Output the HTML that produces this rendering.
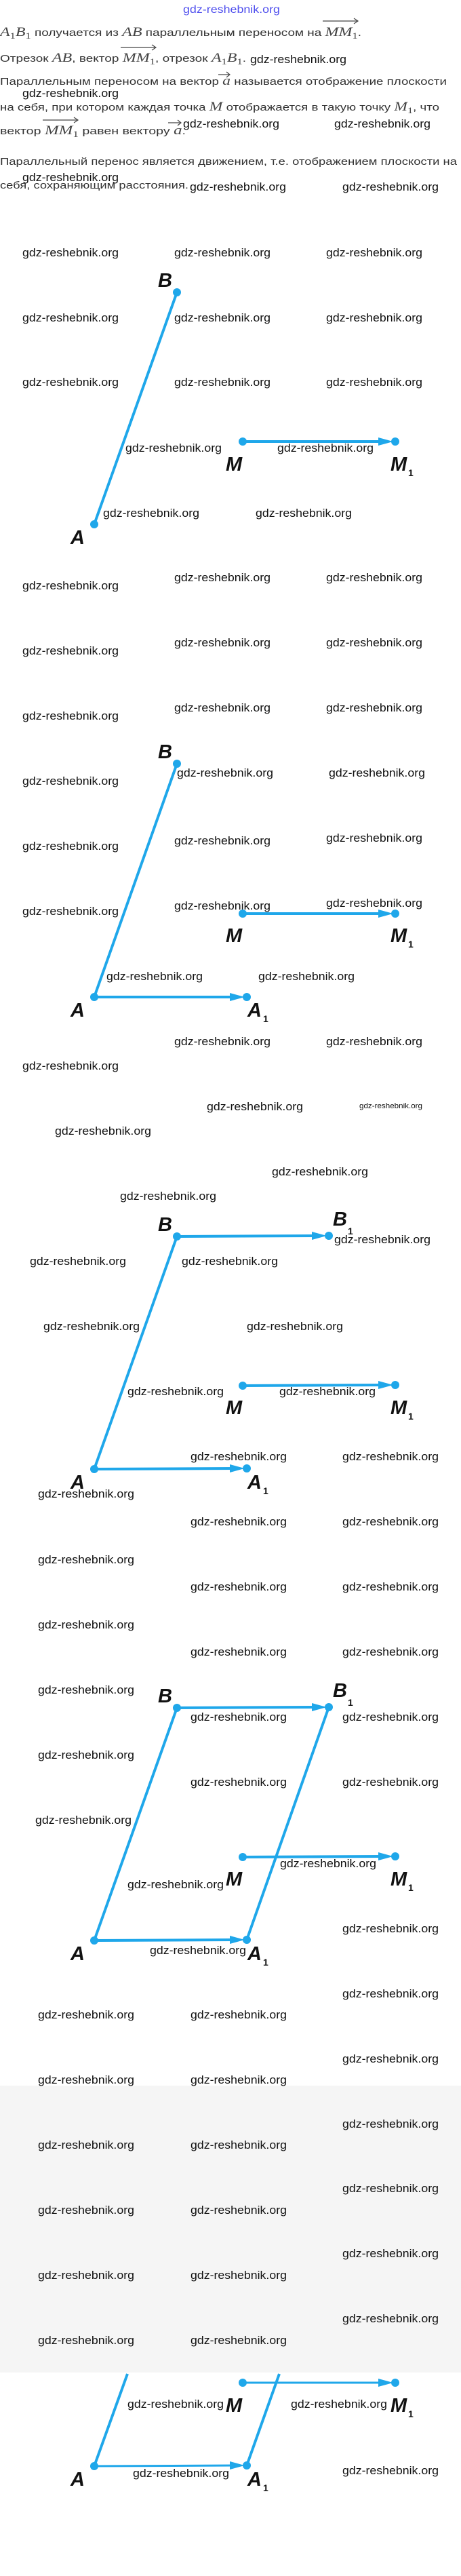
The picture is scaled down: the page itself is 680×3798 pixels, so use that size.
<!DOCTYPE html>
<html><head><meta charset="utf-8"><style>
html,body{margin:0;padding:0;background:#fff;}
body{width:680px;height:3798px;overflow:hidden;position:relative;}
svg{position:absolute;left:0;top:0;}
.w{font-family:"Liberation Sans",sans-serif;font-size:17px;fill:#111;}
.t{font-family:"Liberation Sans",sans-serif;font-size:15px;fill:#333;}
.m{font-family:"Liberation Serif",serif;font-style:italic;font-size:19px;fill:#444;}
.s{font-family:"Liberation Serif",serif;font-size:13px;fill:#444;}
.L{font-family:"Liberation Sans",sans-serif;font-weight:bold;font-style:italic;font-size:29px;fill:#111;}
.l1{font-family:"Liberation Sans",sans-serif;font-weight:bold;font-size:14px;fill:#111;}
.ln{stroke:#1fa7ea;stroke-width:4;stroke-linecap:round;fill:none;}
.dt{fill:#1fa7ea;}
.va{stroke:#444;stroke-width:1.2;fill:none;}
</style></head><body>
<svg width="680" height="3798" viewBox="0 0 680 3798" xmlns="http://www.w3.org/2000/svg">
<!-- header -->
<text x="270" y="19" font-family="Liberation Sans Narrow, Liberation Sans, sans-serif" font-size="16" fill="#5050ee" textLength="143" lengthAdjust="spacingAndGlyphs">gdz-reshebnik.org</text>

<text class="t" x="0" y="53" textLength="533" lengthAdjust="spacingAndGlyphs"><tspan class="m">A</tspan><tspan class="s" dy="4">1</tspan><tspan class="m" dy="-4">B</tspan><tspan class="s" dy="4">1</tspan><tspan dy="-4"> получается из </tspan><tspan class="m">AB</tspan> параллельным переносом на <tspan class="m">MM</tspan><tspan class="s" dy="4">1</tspan><tspan dy="-4">.</tspan></text>
<path class="va" d="M476 31 L528 31 M522 27 L528 31 L522 35"/>

<text class="t" x="0" y="91" textLength="363" lengthAdjust="spacingAndGlyphs">Отрезок <tspan class="m">AB</tspan>, вектор <tspan class="m">MM</tspan><tspan class="s" dy="4">1</tspan><tspan dy="-4">, отрезок </tspan><tspan class="m">A</tspan><tspan class="s" dy="4">1</tspan><tspan class="m" dy="-4">B</tspan><tspan class="s" dy="4">1</tspan><tspan dy="-4">.</tspan></text>
<path class="va" d="M178 70 L230 70 M224 66 L230 70 L224 74"/>
<text class="w" x="369" y="93" textLength="142" lengthAdjust="spacingAndGlyphs">gdz-reshebnik.org</text>

<text class="t" x="0" y="125" textLength="659" lengthAdjust="spacingAndGlyphs">Параллельным переносом на вектор <tspan class="m">a</tspan>  называется отображение плоскости</text>
<path class="va" d="M322 110 L339 110 M334 106 L339 110 L334 114"/>
<text class="w" x="33" y="143" textLength="142" lengthAdjust="spacingAndGlyphs">gdz-reshebnik.org</text>
<text class="t" x="0" y="163" textLength="648" lengthAdjust="spacingAndGlyphs">на себя, при котором каждая точка <tspan class="m">M</tspan> отображается в такую точку <tspan class="m">M</tspan><tspan class="s" dy="4">1</tspan><tspan dy="-4">, что</tspan></text>
<text class="t" x="0" y="198" textLength="274" lengthAdjust="spacingAndGlyphs">вектор <tspan class="m">MM</tspan><tspan class="s" dy="4">1</tspan><tspan dy="-4"> равен вектору </tspan><tspan class="m">a</tspan>.</text>
<path class="va" d="M63 177 L115 177 M109 173 L115 177 L109 181"/>
<path class="va" d="M248 181 L267 181 M262 177 L267 181 L262 185"/>
<text class="w" x="270" y="188" textLength="142" lengthAdjust="spacingAndGlyphs">gdz-reshebnik.org</text>
<text class="w" x="493" y="188" textLength="142" lengthAdjust="spacingAndGlyphs">gdz-reshebnik.org</text>
<text class="t" x="0" y="243" textLength="674" lengthAdjust="spacingAndGlyphs">Параллельный перенос является движением, т.е. отображением плоскости на</text>
<text class="w" x="33" y="267" textLength="142" lengthAdjust="spacingAndGlyphs">gdz-reshebnik.org</text>
<text class="t" x="0" y="278" textLength="278" lengthAdjust="spacingAndGlyphs">себя, сохраняющим расстояния.</text>
<text class="w" x="280" y="281" textLength="142" lengthAdjust="spacingAndGlyphs">gdz-reshebnik.org</text>
<text class="w" x="505" y="281" textLength="142" lengthAdjust="spacingAndGlyphs">gdz-reshebnik.org</text>

<!-- gray band -->
<rect x="0" y="3075" width="680" height="423" fill="#f5f5f5"/>

<!-- Diagram 1 -->
<g>
<line class="ln" x1="261" y1="431" x2="139" y2="773"/>
<line class="ln" x1="358" y1="651" x2="566" y2="651"/><polygon class="dt" points="558,645 580,651 558,657"/>
<circle class="dt" cx="261" cy="431" r="6"/><circle class="dt" cx="139" cy="773" r="6"/>
<circle class="dt" cx="358" cy="651" r="6"/><circle class="dt" cx="583" cy="651" r="6"/>
<text class="L" x="233" y="423">B</text>
<text class="L" x="333" y="694">M</text>
<text class="L" x="576" y="694">M</text><text class="l1" x="602" y="702">1</text>
<text class="L" x="104" y="802">A</text>
</g>

<!-- Diagram 2 -->
<g>
<line class="ln" x1="261" y1="1126" x2="139" y2="1470"/>
<line class="ln" x1="358" y1="1347" x2="566" y2="1347"/><polygon class="dt" points="558,1341 580,1347 558,1353"/>
<line class="ln" x1="139" y1="1470" x2="347" y2="1470"/><polygon class="dt" points="339,1464 361,1470 339,1476"/>
<circle class="dt" cx="261" cy="1126" r="6"/><circle class="dt" cx="139" cy="1470" r="6"/>
<circle class="dt" cx="358" cy="1347" r="6"/><circle class="dt" cx="583" cy="1347" r="6"/>
<circle class="dt" cx="364" cy="1470" r="6"/>
<text class="L" x="233" y="1118">B</text>
<text class="L" x="333" y="1389">M</text>
<text class="L" x="576" y="1389">M</text><text class="l1" x="602" y="1397">1</text>
<text class="L" x="104" y="1499">A</text>
<text class="L" x="365" y="1499">A</text><text class="l1" x="388" y="1507">1</text>
</g>

<!-- Diagram 3 -->
<g>
<line class="ln" x1="261" y1="1823" x2="139" y2="2166"/>
<line class="ln" x1="261" y1="1823" x2="468" y2="1822"/><polygon class="dt" points="460,1816 482,1822 460,1828"/>
<line class="ln" x1="358" y1="2043" x2="566" y2="2042"/><polygon class="dt" points="558,2036 580,2042 558,2048"/>
<line class="ln" x1="139" y1="2166" x2="347" y2="2165"/><polygon class="dt" points="339,2159 361,2165 339,2171"/>
<circle class="dt" cx="261" cy="1823" r="6"/><circle class="dt" cx="485" cy="1822" r="6"/>
<circle class="dt" cx="358" cy="2043" r="6"/><circle class="dt" cx="583" cy="2042" r="6"/>
<circle class="dt" cx="139" cy="2166" r="6"/><circle class="dt" cx="364" cy="2165" r="6"/>
<text class="L" x="233" y="1815">B</text>
<text class="L" x="491" y="1807">B</text><text class="l1" x="513" y="1820">1</text>
<text class="L" x="333" y="2085">M</text>
<text class="L" x="576" y="2085">M</text><text class="l1" x="602" y="2093">1</text>
<text class="L" x="104" y="2195">A</text>
<text class="L" x="365" y="2195">A</text><text class="l1" x="388" y="2203">1</text>
</g>

<!-- Diagram 4 -->
<g>
<line class="ln" x1="261" y1="2518" x2="139" y2="2861"/>
<line class="ln" x1="485" y1="2517" x2="364" y2="2860"/>
<line class="ln" x1="261" y1="2518" x2="468" y2="2517"/><polygon class="dt" points="460,2511 482,2517 460,2523"/>
<line class="ln" x1="358" y1="2738" x2="566" y2="2737"/><polygon class="dt" points="558,2731 580,2737 558,2743"/>
<line class="ln" x1="139" y1="2861" x2="347" y2="2860"/><polygon class="dt" points="339,2854 361,2860 339,2866"/>
<circle class="dt" cx="261" cy="2518" r="6"/><circle class="dt" cx="485" cy="2517" r="6"/>
<circle class="dt" cx="358" cy="2738" r="6"/><circle class="dt" cx="583" cy="2737" r="6"/>
<circle class="dt" cx="139" cy="2861" r="6"/><circle class="dt" cx="364" cy="2860" r="6"/>
<text class="L" x="233" y="2510">B</text>
<text class="L" x="491" y="2502">B</text><text class="l1" x="513" y="2515">1</text>
<text class="L" x="333" y="2780">M</text>
<text class="L" x="576" y="2780">M</text><text class="l1" x="602" y="2788">1</text>
<text class="L" x="104" y="2890">A</text>
<text class="L" x="365" y="2890">A</text><text class="l1" x="388" y="2898">1</text>
</g>

<!-- Diagram 5 (partial) -->
<g>
<line class="ln" x1="188" y1="3500" x2="139" y2="3636" style="stroke-linecap:butt"/>
<line class="ln" x1="412" y1="3500" x2="364" y2="3635" style="stroke-linecap:butt"/>
<line class="ln" x1="358" y1="3513" x2="566" y2="3513" style="stroke-width:3"/><polygon class="dt" points="558,3507 580,3513 558,3519"/>
<line class="ln" x1="139" y1="3636" x2="347" y2="3635" style="stroke-width:3"/><polygon class="dt" points="339,3629 361,3635 339,3641"/>
<circle class="dt" cx="358" cy="3513" r="6"/><circle class="dt" cx="583" cy="3513" r="6"/>
<circle class="dt" cx="139" cy="3636" r="6"/><circle class="dt" cx="364" cy="3635" r="6"/>
<text class="L" x="333" y="3556">M</text>
<text class="L" x="576" y="3556">M</text><text class="l1" x="602" y="3564">1</text>
<text class="L" x="104" y="3665">A</text>
<text class="L" x="365" y="3665">A</text><text class="l1" x="388" y="3673">1</text>
</g>

<!-- watermarks -->
<g class="w">
<text x="33" y="378" textLength="142" lengthAdjust="spacingAndGlyphs">gdz-reshebnik.org</text>
<text x="257" y="378" textLength="142" lengthAdjust="spacingAndGlyphs">gdz-reshebnik.org</text>
<text x="481" y="378" textLength="142" lengthAdjust="spacingAndGlyphs">gdz-reshebnik.org</text>
<text x="33" y="474" textLength="142" lengthAdjust="spacingAndGlyphs">gdz-reshebnik.org</text>
<text x="257" y="474" textLength="142" lengthAdjust="spacingAndGlyphs">gdz-reshebnik.org</text>
<text x="481" y="474" textLength="142" lengthAdjust="spacingAndGlyphs">gdz-reshebnik.org</text>
<text x="33" y="569" textLength="142" lengthAdjust="spacingAndGlyphs">gdz-reshebnik.org</text>
<text x="257" y="569" textLength="142" lengthAdjust="spacingAndGlyphs">gdz-reshebnik.org</text>
<text x="481" y="569" textLength="142" lengthAdjust="spacingAndGlyphs">gdz-reshebnik.org</text>
<text x="185" y="666" textLength="142" lengthAdjust="spacingAndGlyphs">gdz-reshebnik.org</text>
<text x="409" y="666" textLength="142" lengthAdjust="spacingAndGlyphs">gdz-reshebnik.org</text>
<text x="152" y="762" textLength="142" lengthAdjust="spacingAndGlyphs">gdz-reshebnik.org</text>
<text x="377" y="762" textLength="142" lengthAdjust="spacingAndGlyphs">gdz-reshebnik.org</text>

<text x="33" y="869" textLength="142" lengthAdjust="spacingAndGlyphs">gdz-reshebnik.org</text>
<text x="257" y="857" textLength="142" lengthAdjust="spacingAndGlyphs">gdz-reshebnik.org</text>
<text x="481" y="857" textLength="142" lengthAdjust="spacingAndGlyphs">gdz-reshebnik.org</text>
<text x="33" y="965" textLength="142" lengthAdjust="spacingAndGlyphs">gdz-reshebnik.org</text>
<text x="257" y="953" textLength="142" lengthAdjust="spacingAndGlyphs">gdz-reshebnik.org</text>
<text x="481" y="953" textLength="142" lengthAdjust="spacingAndGlyphs">gdz-reshebnik.org</text>
<text x="33" y="1061" textLength="142" lengthAdjust="spacingAndGlyphs">gdz-reshebnik.org</text>
<text x="257" y="1049" textLength="142" lengthAdjust="spacingAndGlyphs">gdz-reshebnik.org</text>
<text x="481" y="1049" textLength="142" lengthAdjust="spacingAndGlyphs">gdz-reshebnik.org</text>
<text x="33" y="1157" textLength="142" lengthAdjust="spacingAndGlyphs">gdz-reshebnik.org</text>
<text x="261" y="1145" textLength="142" lengthAdjust="spacingAndGlyphs">gdz-reshebnik.org</text>
<text x="485" y="1145" textLength="142" lengthAdjust="spacingAndGlyphs">gdz-reshebnik.org</text>
<text x="33" y="1253" textLength="142" lengthAdjust="spacingAndGlyphs">gdz-reshebnik.org</text>
<text x="257" y="1245" textLength="142" lengthAdjust="spacingAndGlyphs">gdz-reshebnik.org</text>
<text x="481" y="1241" textLength="142" lengthAdjust="spacingAndGlyphs">gdz-reshebnik.org</text>
<text x="33" y="1349" textLength="142" lengthAdjust="spacingAndGlyphs">gdz-reshebnik.org</text>
<text x="257" y="1341" textLength="142" lengthAdjust="spacingAndGlyphs">gdz-reshebnik.org</text>
<text x="481" y="1337" textLength="142" lengthAdjust="spacingAndGlyphs">gdz-reshebnik.org</text>
<text x="157" y="1445" textLength="142" lengthAdjust="spacingAndGlyphs">gdz-reshebnik.org</text>
<text x="381" y="1445" textLength="142" lengthAdjust="spacingAndGlyphs">gdz-reshebnik.org</text>

<text x="257" y="1541" textLength="142" lengthAdjust="spacingAndGlyphs">gdz-reshebnik.org</text>
<text x="481" y="1541" textLength="142" lengthAdjust="spacingAndGlyphs">gdz-reshebnik.org</text>
<text x="33" y="1577" textLength="142" lengthAdjust="spacingAndGlyphs">gdz-reshebnik.org</text>
<text x="305" y="1637" textLength="142" lengthAdjust="spacingAndGlyphs">gdz-reshebnik.org</text>
<text x="530" y="1634" font-size="11" textLength="93" lengthAdjust="spacingAndGlyphs">gdz-reshebnik.org</text>
<text x="81" y="1673" textLength="142" lengthAdjust="spacingAndGlyphs">gdz-reshebnik.org</text>
<text x="401" y="1733" textLength="142" lengthAdjust="spacingAndGlyphs">gdz-reshebnik.org</text>
<text x="177" y="1769" textLength="142" lengthAdjust="spacingAndGlyphs">gdz-reshebnik.org</text>
<text x="493" y="1833" textLength="142" lengthAdjust="spacingAndGlyphs">gdz-reshebnik.org</text>
<text x="44" y="1865" textLength="142" lengthAdjust="spacingAndGlyphs">gdz-reshebnik.org</text>
<text x="268" y="1865" textLength="142" lengthAdjust="spacingAndGlyphs">gdz-reshebnik.org</text>
<text x="64" y="1961" textLength="142" lengthAdjust="spacingAndGlyphs">gdz-reshebnik.org</text>
<text x="364" y="1961" textLength="142" lengthAdjust="spacingAndGlyphs">gdz-reshebnik.org</text>
<text x="188" y="2057" textLength="142" lengthAdjust="spacingAndGlyphs">gdz-reshebnik.org</text>
<text x="412" y="2057" textLength="142" lengthAdjust="spacingAndGlyphs">gdz-reshebnik.org</text>
<text x="281" y="2153" textLength="142" lengthAdjust="spacingAndGlyphs">gdz-reshebnik.org</text>
<text x="505" y="2153" textLength="142" lengthAdjust="spacingAndGlyphs">gdz-reshebnik.org</text>
<text x="56" y="2208" textLength="142" lengthAdjust="spacingAndGlyphs">gdz-reshebnik.org</text>
<text x="281" y="2249" textLength="142" lengthAdjust="spacingAndGlyphs">gdz-reshebnik.org</text>
<text x="505" y="2249" textLength="142" lengthAdjust="spacingAndGlyphs">gdz-reshebnik.org</text>

<text x="56" y="2305" textLength="142" lengthAdjust="spacingAndGlyphs">gdz-reshebnik.org</text>
<text x="281" y="2345" textLength="142" lengthAdjust="spacingAndGlyphs">gdz-reshebnik.org</text>
<text x="505" y="2345" textLength="142" lengthAdjust="spacingAndGlyphs">gdz-reshebnik.org</text>
<text x="56" y="2401" textLength="142" lengthAdjust="spacingAndGlyphs">gdz-reshebnik.org</text>
<text x="281" y="2441" textLength="142" lengthAdjust="spacingAndGlyphs">gdz-reshebnik.org</text>
<text x="505" y="2441" textLength="142" lengthAdjust="spacingAndGlyphs">gdz-reshebnik.org</text>
<text x="56" y="2497" textLength="142" lengthAdjust="spacingAndGlyphs">gdz-reshebnik.org</text>
<text x="281" y="2537" textLength="142" lengthAdjust="spacingAndGlyphs">gdz-reshebnik.org</text>
<text x="505" y="2537" textLength="142" lengthAdjust="spacingAndGlyphs">gdz-reshebnik.org</text>
<text x="56" y="2593" textLength="142" lengthAdjust="spacingAndGlyphs">gdz-reshebnik.org</text>
<text x="281" y="2633" textLength="142" lengthAdjust="spacingAndGlyphs">gdz-reshebnik.org</text>
<text x="505" y="2633" textLength="142" lengthAdjust="spacingAndGlyphs">gdz-reshebnik.org</text>
<text x="52" y="2689" textLength="142" lengthAdjust="spacingAndGlyphs">gdz-reshebnik.org</text>
<text x="413" y="2753" textLength="142" lengthAdjust="spacingAndGlyphs">gdz-reshebnik.org</text>
<text x="188" y="2784" textLength="142" lengthAdjust="spacingAndGlyphs">gdz-reshebnik.org</text>
<text x="505" y="2849" textLength="142" lengthAdjust="spacingAndGlyphs">gdz-reshebnik.org</text>
<text x="221" y="2881" textLength="142" lengthAdjust="spacingAndGlyphs">gdz-reshebnik.org</text>
<text x="505" y="2945" textLength="142" lengthAdjust="spacingAndGlyphs">gdz-reshebnik.org</text>
<text x="56" y="2976" textLength="142" lengthAdjust="spacingAndGlyphs">gdz-reshebnik.org</text>
<text x="281" y="2976" textLength="142" lengthAdjust="spacingAndGlyphs">gdz-reshebnik.org</text>

<text x="505" y="3041" textLength="142" lengthAdjust="spacingAndGlyphs">gdz-reshebnik.org</text>
<text x="56" y="3072" textLength="142" lengthAdjust="spacingAndGlyphs">gdz-reshebnik.org</text>
<text x="281" y="3072" textLength="142" lengthAdjust="spacingAndGlyphs">gdz-reshebnik.org</text>
<text x="505" y="3137" textLength="142" lengthAdjust="spacingAndGlyphs">gdz-reshebnik.org</text>
<text x="56" y="3168" textLength="142" lengthAdjust="spacingAndGlyphs">gdz-reshebnik.org</text>
<text x="281" y="3168" textLength="142" lengthAdjust="spacingAndGlyphs">gdz-reshebnik.org</text>
<text x="505" y="3232" textLength="142" lengthAdjust="spacingAndGlyphs">gdz-reshebnik.org</text>
<text x="56" y="3264" textLength="142" lengthAdjust="spacingAndGlyphs">gdz-reshebnik.org</text>
<text x="281" y="3264" textLength="142" lengthAdjust="spacingAndGlyphs">gdz-reshebnik.org</text>
<text x="505" y="3328" textLength="142" lengthAdjust="spacingAndGlyphs">gdz-reshebnik.org</text>
<text x="56" y="3360" textLength="142" lengthAdjust="spacingAndGlyphs">gdz-reshebnik.org</text>
<text x="281" y="3360" textLength="142" lengthAdjust="spacingAndGlyphs">gdz-reshebnik.org</text>
<text x="505" y="3424" textLength="142" lengthAdjust="spacingAndGlyphs">gdz-reshebnik.org</text>
<text x="56" y="3456" textLength="142" lengthAdjust="spacingAndGlyphs">gdz-reshebnik.org</text>
<text x="281" y="3456" textLength="142" lengthAdjust="spacingAndGlyphs">gdz-reshebnik.org</text>
<text x="188" y="3550" textLength="142" lengthAdjust="spacingAndGlyphs">gdz-reshebnik.org</text>
<text x="429" y="3550" textLength="142" lengthAdjust="spacingAndGlyphs">gdz-reshebnik.org</text>
<text x="196" y="3652" textLength="142" lengthAdjust="spacingAndGlyphs">gdz-reshebnik.org</text>
<text x="505" y="3648" textLength="142" lengthAdjust="spacingAndGlyphs">gdz-reshebnik.org</text>
</g>
</svg>
</body></html>
